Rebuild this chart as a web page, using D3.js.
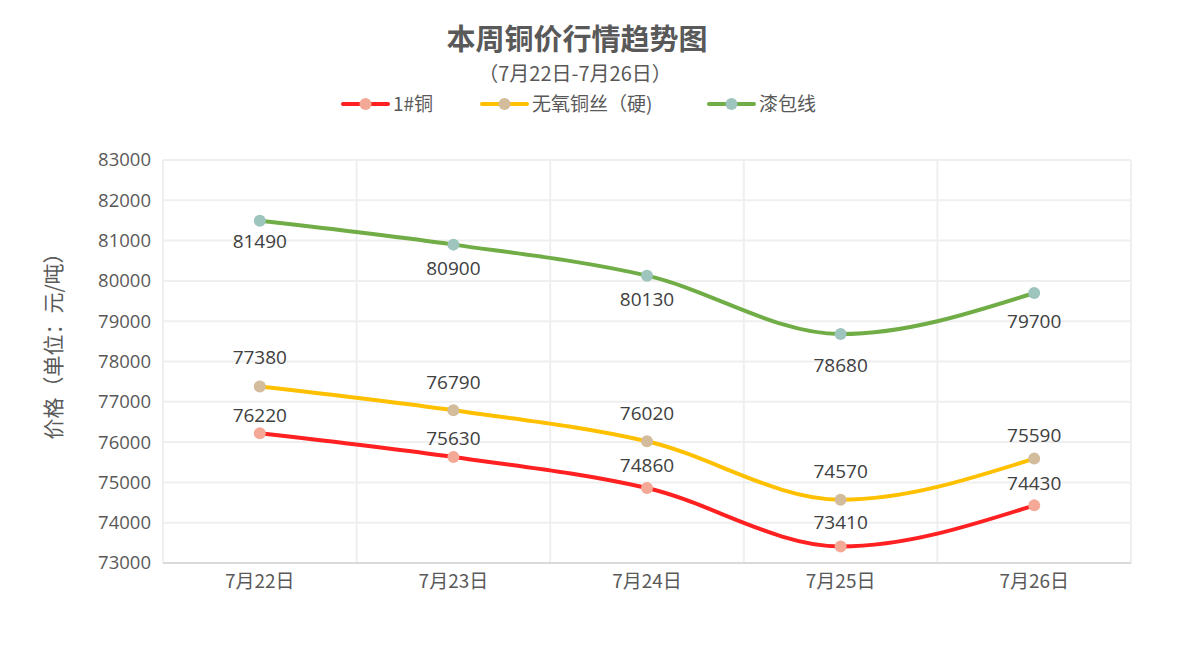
<!DOCTYPE html>
<html><head><meta charset="utf-8">
<script src="https://cdn.jsdelivr.net/npm/d3@7"></script>
<style>body{margin:0;background:#fff}svg{display:block}</style>
</head><body><div id="c"></div>
<script>
const categories = ["7月22日","7月23日","7月24日","7月25日","7月26日"];
const copper1 = [76220,75630,74860,73410,74430];
const oxygenFree = [77380,76790,76020,74570,75590];
const enamelled = [81490,80900,80130,78680,79700];
const yTicks = [73000,74000,75000,76000,77000,78000,79000,80000,81000,82000,83000];
const seriesNames = ["1#铜","无氧铜丝（硬)","漆包线"];
// label placement offsets (px, from point)
const labOff = [[-11,-12,-16,-17,-15],[-22,-21,-21,-22,-17],[27,30,30,38,35]];

const W=1180,H=646;
const cn = "'Noto Sans CJK SC','Noto Sans',sans-serif";
const num = "'Open Sans','Noto Sans',sans-serif";
const svg = d3.select("#c").append("svg").attr("width",W).attr("height",H);
const L=163,R=1131,T=160,B=563;
const x = d3.scaleBand().domain(categories).range([L,R]);
const y = d3.scaleLinear().domain([73000,83000]).range([B,T]);

svg.append("g").selectAll("line").data(yTicks.slice(1)).join("line")
 .attr("x1",L).attr("x2",R).attr("y1",d=>y(d)).attr("y2",d=>y(d))
 .attr("stroke","#efefef").attr("stroke-width",2);
const bounds = categories.map(c=>x(c)).concat([R]);
svg.append("g").selectAll("line").data(bounds).join("line")
 .attr("x1",d=>d).attr("x2",d=>d).attr("y1",T).attr("y2",B)
 .attr("stroke","#efefef").attr("stroke-width",2);
svg.append("line").attr("x1",L).attr("x2",R).attr("y1",B).attr("y2",B).attr("stroke","#d9d9d9").attr("stroke-width",2);

const ya = svg.append("g").attr("transform",`translate(${L},0)`).call(d3.axisLeft(y).tickValues(yTicks).tickSize(0).tickPadding(12).tickFormat(d=>d));
ya.select(".domain").remove();
ya.selectAll("text").attr("font-family",num).attr("font-size",18.5).attr("fill","#595959");
const xa = svg.append("g").attr("transform",`translate(0,${B})`).call(d3.axisBottom(x).tickSize(0).tickPadding(12));
xa.select(".domain").remove();
xa.selectAll("text").attr("font-family",cn).attr("font-size",19).attr("fill","#595959");

svg.append("text").attr("transform","translate(61,341) rotate(-90)").attr("text-anchor","middle")
 .attr("font-family",cn).attr("font-size",21).attr("fill","#595959").text("价格（单位：元/吨）");

svg.append("text").attr("x",577).attr("y",50).attr("text-anchor","middle").attr("font-family",cn)
 .attr("font-weight","bold").attr("font-size",29).attr("fill","#595959").text("本周铜价行情趋势图");
svg.append("text").attr("x",575).attr("y",81).attr("text-anchor","middle").attr("font-family",cn)
 .attr("font-size",20).attr("fill","#595959").text("（7月22日-7月26日）");

const series = [
 {name:seriesNames[0],vals:copper1,line:"#ff2121",mark:"#f4a996"},
 {name:seriesNames[1],vals:oxygenFree,line:"#ffc000",mark:"#d3bc9b"},
 {name:seriesNames[2],vals:enamelled,line:"#70ad47",mark:"#9dc4bd"}
];
const cx = c=>x(c)+x.bandwidth()/2;
const lineGen = d3.line().x(d=>cx(d[0])).y(d=>y(d[1])).curve(d3.curveMonotoneX);
series.forEach((s,si)=>{
 const pts = categories.map((c,i)=>[c,s.vals[i],labOff[si][i]]);
 svg.append("path").attr("d",lineGen(pts)).attr("fill","none").attr("stroke",s.line).attr("stroke-width",4).attr("stroke-linecap","round");
 svg.append("g").selectAll("circle").data(pts).join("circle").attr("cx",d=>cx(d[0])).attr("cy",d=>y(d[1])).attr("r",6).attr("fill",s.mark);
 svg.append("g").selectAll("text").data(pts).join("text").attr("x",d=>cx(d[0])).attr("y",d=>y(d[1])+d[2])
  .attr("text-anchor","middle").attr("font-family",num).attr("font-size",19).attr("fill","#404040").text(d=>d[1]);
});

const lx=[343,482,709];
series.forEach((s,i)=>{
 const g=svg.append("g").attr("transform",`translate(${lx[i]},104)`);
 g.append("line").attr("x1",0).attr("x2",45).attr("stroke",s.line).attr("stroke-width",4).attr("stroke-linecap","round");
 g.append("circle").attr("cx",22.5).attr("r",6).attr("fill",s.mark);
 g.append("text").attr("x",50).attr("y",7).attr("font-family",cn).attr("font-size",19).attr("fill","#595959").text(s.name);
});
</script></body></html>
